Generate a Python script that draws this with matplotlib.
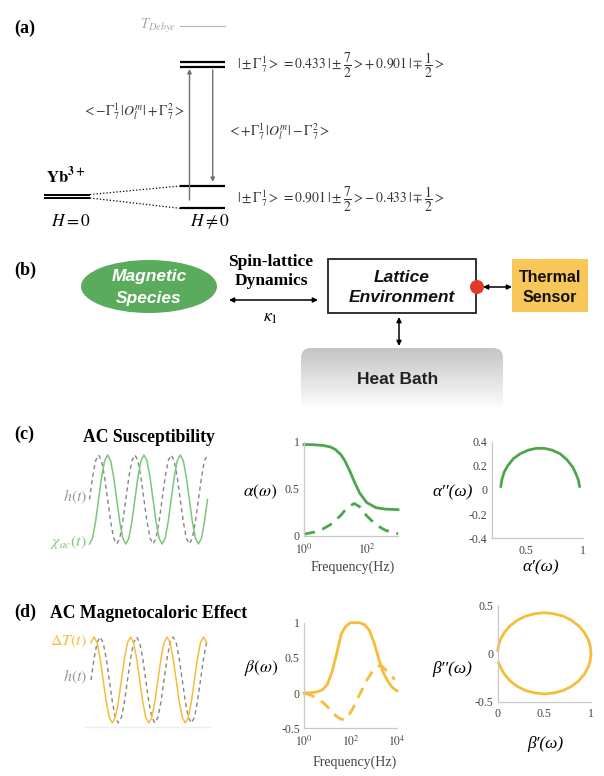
import numpy as np
import matplotlib
matplotlib.use('Agg')
import matplotlib.pyplot as plt
from matplotlib.patches import Ellipse, Rectangle, FancyBboxPatch, Circle

plt.rcParams['font.family'] = 'serif'
plt.rcParams['font.serif'] = ['Liberation Serif', 'DejaVu Serif']
plt.rcParams['mathtext.fontset'] = 'stix'

# ---- data ----
# (c) schematic waves, 12 samples per period
h_c = [0, .5, .87, 1, .87, .5, 0, -.5, -.87, -1, -.87, -.5,
       0, .5, .87, 1, .87, .5, 0, -.5, -.87, -1, -.87, -.5,
       0, .5, .87, 1, .87, .5, 0, -.5, -.87, -1, -.87, -.5,
       0, .5, .87, 1]
chi_c = [-1, -.87, -.5, 0, .5, .87, 1, .87, .5, 0, -.5, -.87,
         -1, -.87, -.5, 0, .5, .87, 1, .87, .5, 0, -.5, -.87,
         -1, -.87, -.5, 0, .5, .87, 1, .87, .5, 0, -.5, -.87,
         -1, -.87, -.5, 0]
# (d) schematic waves
h_d = [0, .5, .87, 1, .87, .5, 0, -.5, -.87, -1, -.87, -.5,
       0, .5, .87, 1, .87, .5, 0, -.5, -.87, -1, -.87, -.5,
       0, .5, .87, 1, .87, .5, 0, -.5, -.87, -1, -.87, -.5,
       0, .5, .87]
dT_d = [.87, 1, .87, .5, 0, -.5, -.87, -1, -.87, -.5, 0, .5,
        .87, 1, .87, .5, 0, -.5, -.87, -1, -.87, -.5, 0, .5,
        .87, 1, .87, .5, 0, -.5, -.87, -1, -.87, -.5, 0, .5,
        .87, 1, .87]

# (c) alpha(omega)
freq_c = [1, 2, 4, 7, 10, 15, 20, 30, 40, 60, 100, 200, 400, 1000]
alpha_re = [0.97, 0.968, 0.96, 0.944, 0.918, 0.863, 0.80, 0.678, 0.579, 0.455,
            0.355, 0.30, 0.285, 0.28]
alpha_im = [0.02, 0.039, 0.075, 0.12, 0.165, 0.22, 0.27, 0.32, 0.345, 0.31,
            0.215, 0.117, 0.06, 0.024]
# (c) Cole-Cole
cole_re = [0.28, 0.29, 0.31, 0.34, 0.39, 0.45, 0.52, 0.59, 0.66, 0.73, 0.80,
           0.86, 0.91, 0.94, 0.96, 0.97]
cole_im = [0.03, 0.09, 0.15, 0.20, 0.26, 0.30, 0.33, 0.345, 0.345, 0.33, 0.30,
           0.25, 0.19, 0.13, 0.08, 0.03]

# (d) beta(omega)
freq_d1 = [1, 2, 4, 6.3, 10, 16, 25, 40, 63, 100, 160, 250, 400, 630, 1000,
           1600, 2500, 4000, 6300, 10000]
beta_re = [0.0, 0.005, 0.02, 0.05, 0.12, 0.3, 0.55, 0.84, 0.95, 1.0, 1.0, 1.0,
           0.97, 0.9, 0.73, 0.5, 0.3, 0.17, 0.08, 0.03]
freq_d2 = [1, 2, 4, 6.3, 10, 16, 25, 40, 56, 79, 126, 200, 316, 500, 794,
           1259, 1778, 2512, 3981, 6310, 7943]
beta_im = [0.0, -0.03, -0.08, -0.13, -0.19, -0.27, -0.33, -0.37, -0.38, -0.33,
           -0.22, -0.08, 0.05, 0.18, 0.29, 0.37, 0.39, 0.37, 0.3, 0.23, 0.19]
# (d) parametric loop
loop_re = [0.0, 0.01, 0.03, 0.07, 0.13, 0.21, 0.3, 0.4, 0.5, 0.6, 0.7, 0.79,
           0.87, 0.93, 0.97, 0.99, 1.0,
           0.99, 0.97, 0.93, 0.87, 0.79, 0.7, 0.6, 0.5, 0.4, 0.3, 0.21, 0.13,
           0.07, 0.03, 0.01]
loop_im = [0.03, 0.084, 0.143, 0.214, 0.283, 0.342, 0.385, 0.41, 0.42, 0.41,
           0.385, 0.342, 0.283, 0.214, 0.143, 0.084, 0.0,
           -0.084, -0.143, -0.214, -0.283, -0.342, -0.385, -0.41, -0.42, -0.41,
           -0.385, -0.342, -0.283, -0.214, -0.143, -0.1]

GREEN = '#4da64d'
LGREEN = '#7cc67c'
ORANGE = '#f6bd3a'
GREY = '#858585'

W, H = 604, 776
fig = plt.figure(figsize=(W / 100, H / 100), dpi=100)
ax0 = fig.add_axes([0, 0, 1, 1])
ax0.set_xlim(0, W)
ax0.set_ylim(H, 0)
ax0.axis('off')


def px_axes(l, t, r, b):
    return fig.add_axes([l / W, 1 - b / H, (r - l) / W, (b - t) / H])


def arrow(x0, y0, x1, y1, style='<|-|>', color='k', lw=1.1, ms=7):
    ax0.annotate('', xy=(x1, y1), xytext=(x0, y0),
                 arrowprops=dict(arrowstyle=style, color=color, lw=lw,
                                 mutation_scale=ms, shrinkA=0, shrinkB=0))


def prime_label(x, y, s):
    ax0.text(x, y, s, fontsize=12.5, style='italic', ha='center', va='center')


# ---------------- (a) ----------------
ax0.text(14, 28, '(a)', fontsize=13, fontweight='bold', va='center')
ax0.text(176, 26, r'$T_{Debye}$', color='#a8a8a8', fontsize=10.5, ha='right', va='center')
ax0.plot([180, 225], [26, 26], color='#b8b8b8', lw=0.8)
for y in [61.7, 66.7, 186, 208.3]:
    ax0.plot([180, 225], [y, y], color='k', lw=1.6, solid_capstyle='butt')
for y in [194.5, 198]:
    ax0.plot([44, 90], [y, y], color='k', lw=1.4, solid_capstyle='butt')
ax0.plot([90, 180], [194.5, 186], color='k', ls=':', lw=0.9)
ax0.plot([90, 180], [198, 208.3], color='k', ls=':', lw=0.9)
arrow(189.5, 200, 189.5, 69, style='-|>', color='#707070', lw=1.0, ms=6)
arrow(212.7, 70, 212.7, 182, style='-|>', color='#707070', lw=1.0, ms=6)
ax0.text(185, 112, r'$<-\Gamma_7^1\,|O_l^m|+\Gamma_7^2>$', ha='right', va='center',
         fontsize=10, color='#333333')
ax0.text(227, 132, r'$<+\Gamma_7^1\,|O_l^m|-\Gamma_7^2>$', ha='left', va='center',
         fontsize=10, color='#333333')
ax0.text(237, 65, r'$|\pm\Gamma_7^1>\,=0.433\,|\pm\dfrac{7}{2}>+\,0.901\,|\mp\dfrac{1}{2}>$',
         ha='left', va='center', fontsize=9.8, color='#333333')
ax0.text(237, 199, r'$|\pm\Gamma_7^1>\,=0.901\,|\pm\dfrac{7}{2}>-\,0.433\,|\mp\dfrac{1}{2}>$',
         ha='left', va='center', fontsize=9.8, color='#333333')
ax0.text(46, 176, r'$\mathbf{Yb}^{\mathbf{3+}}$', fontsize=12, va='center')
ax0.text(51, 222, r'$H=0$', fontsize=12.5, va='center')
ax0.text(190, 222, r'$H\neq0$', fontsize=12.5, va='center')

# ---------------- (b) ----------------
ax0.text(14, 270, '(b)', fontsize=13, fontweight='bold', va='center')
ax0.add_patch(Ellipse((149, 286.5), 136, 53, fc='#5aab5c', ec='none'))
for s, y in [('Magnetic', 277), ('Species', 298)]:
    ax0.text(149, y, s, family='Liberation Sans', style='italic', fontweight='bold',
             color='white', fontsize=12.5, ha='center', va='center')
ax0.text(271, 262, 'Spin-lattice', fontsize=12.5, fontweight='bold', ha='center', va='center')
ax0.text(271, 281, 'Dynamics', fontsize=12.5, fontweight='bold', ha='center', va='center')
arrow(229, 300, 318, 300)
ax0.text(271, 318, r'$\kappa_1$', fontsize=13, ha='center', va='center')
ax0.add_patch(Rectangle((328, 259), 148, 54, fc='white', ec='#222222', lw=1.3))
for s, y in [('Lattice', 277), ('Environment', 298)]:
    ax0.text(402, y, s, family='Liberation Sans', style='italic', fontweight='bold',
             color='#111111', fontsize=12.5, ha='center', va='center')
ax0.add_patch(Circle((477, 287), 7, fc='#e23a2a', ec='none', zorder=5))
arrow(483, 287, 512, 287)
ax0.add_patch(Rectangle((512, 259), 76, 53, fc='#f8c659', ec='none'))
for s, y in [('Thermal', 277), ('Sensor', 297)]:
    ax0.text(550, y, s, family='Liberation Sans', fontweight='bold', color='#111111',
             fontsize=11.5, ha='center', va='center')
arrow(399, 317, 399, 346)
bath = FancyBboxPatch((311, 358), 182, 42, boxstyle='round,pad=10', fc='none', ec='none')
ax0.add_patch(bath)
shade = np.linspace(0.77, 1.0, 64)
grad = np.dstack([shade, shade, shade]).reshape(64, 1, 3)
im = ax0.imshow(grad, extent=(301, 503, 410, 348), aspect='auto', interpolation='bilinear',
                zorder=1)
im.set_clip_path(bath)
ax0.set_xlim(0, W)
ax0.set_ylim(H, 0)
ax0.text(398, 380, 'Heat Bath', family='Liberation Sans', fontweight='bold',
         color='#222222', fontsize=12.5, ha='center', va='center', zorder=3)


# ---------------- plot helpers ----------------
def style_axes(ax):
    for s in ['top', 'right']:
        ax.spines[s].set_visible(False)
    for s in ['left', 'bottom']:
        ax.spines[s].set_color('#c8c8c8')
        ax.spines[s].set_linewidth(0.9)
    ax.tick_params(length=0, labelsize=8.5, colors='#444444')
    ax.tick_params(axis='x', pad=4.5)
    ax.tick_params(axis='y', pad=3)
    ax.minorticks_off()


def wave_axes(l, t, r, b, n):
    ax = px_axes(l, t, r, b)
    ax.set_xlim(0, n - 1)
    ax.set_ylim(-1, 1)
    ax.axis('off')
    return ax


# ---------------- (c) ----------------
ax0.text(14, 434, '(c)', fontsize=13, fontweight='bold', va='center')
ax0.text(83, 438, 'AC Susceptibility', fontsize=12.7, fontweight='bold', va='center')
axw = wave_axes(89.5, 455, 207.5, 544, len(h_c))
axw.plot(h_c, color=GREY, lw=1.0, ls=(0, (3, 2.5)), clip_on=False)
axw.plot(chi_c, color=LGREEN, lw=1.1, clip_on=False)
ax0.text(87, 497, r'$h(t)$', color='#999999', fontsize=11.5, ha='right', va='center')
ax0.text(87, 542, r'$\chi_{ac}(t)$', color=LGREEN, fontsize=11.5, ha='right', va='center')

ax = px_axes(304, 441.7, 398, 536)
ax.semilogx(freq_c, alpha_re, color=GREEN, lw=2, clip_on=False)
ax.semilogx(freq_c, alpha_im, color=GREEN, lw=2, ls=(0, (4, 2.8)), clip_on=False)
ax.set_xlim(1, 1000)
ax.set_ylim(0, 1)
ax.set_xticks([1, 100])
ax.set_xticklabels([r'$10^0$', r'$10^2$'])
ax.set_yticks([0, 0.5, 1])
ax.set_yticklabels(['0', '0.5', '1'])
style_axes(ax)
ax0.text(260, 492, r'$\alpha(\omega)$', fontsize=12.5, ha='center', va='center')
ax0.text(353, 567, 'Frequency(Hz)', fontsize=10, color='#444444', ha='center', va='center')

ax = px_axes(491.7, 441.7, 583, 538.3)
ax.plot(cole_re, cole_im, color=GREEN, lw=2, clip_on=False)
ax.set_xlim(0.2, 1)
ax.set_ylim(-0.4, 0.4)
ax.set_xticks([0.5, 1])
ax.set_xticklabels(['0.5', '1'])
ax.set_yticks([-0.4, -0.2, 0, 0.2, 0.4])
ax.set_yticklabels(['-0.4', '-0.2', '0', '0.2', '0.4'])
style_axes(ax)
prime_label(453, 492, 'α′′(ω)')
prime_label(541, 567, 'α′(ω)')

# ---------------- (d) ----------------
ax0.text(14, 612, '(d)', fontsize=13, fontweight='bold', va='center')
ax0.text(50, 614, 'AC Magnetocaloric Effect', fontsize=12.7, fontweight='bold', va='center')
ax0.plot([85, 211], [727, 727], color='#eeeeee', lw=1)
axw = wave_axes(91, 637, 206.6, 723, len(h_d))
axw.plot(h_d, color=GREY, lw=1.0, ls=(0, (3, 2.5)), clip_on=False)
axw.plot(dT_d, color=ORANGE, lw=1.1, clip_on=False)
ax0.text(87, 641, r'$\Delta T(t)$', color=ORANGE, fontsize=11.5, ha='right', va='center')
ax0.text(87, 677, r'$h(t)$', color='#999999', fontsize=11.5, ha='right', va='center')

ax = px_axes(304, 622.7, 397, 728.3)
ax.semilogx(freq_d1, beta_re, color=ORANGE, lw=2, clip_on=False)
ax.semilogx(freq_d2, beta_im, color=ORANGE, lw=2, ls=(0, (4, 2.8)), clip_on=False)
ax.set_xlim(1, 10000)
ax.set_ylim(-0.5, 1)
ax.set_xticks([1, 100, 10000])
ax.set_xticklabels([r'$10^0$', r'$10^2$', r'$10^4$'])
ax.set_yticks([-0.5, 0, 0.5, 1])
ax.set_yticklabels(['-0.5', '0', '0.5', '1'])
style_axes(ax)
ax0.text(261, 668, r'$\beta(\omega)$', fontsize=12.5, ha='center', va='center')
ax0.text(355, 762, 'Frequency(Hz)', fontsize=10, color='#444444', ha='center', va='center')

ax = px_axes(497.7, 605, 591, 701.7)
ax.plot(loop_re, loop_im, color=ORANGE, lw=2, clip_on=False)
ax.set_xlim(0, 1)
ax.set_ylim(-0.5, 0.5)
ax.set_xticks([0, 0.5, 1])
ax.set_xticklabels(['0', '0.5', '1'])
ax.set_yticks([-0.5, 0, 0.5])
ax.set_yticklabels(['-0.5', '0', '0.5'])
style_axes(ax)
prime_label(452, 669, 'β′′(ω)')
prime_label(545, 744, 'β′(ω)')

fig.savefig('out.png', dpi=100)
